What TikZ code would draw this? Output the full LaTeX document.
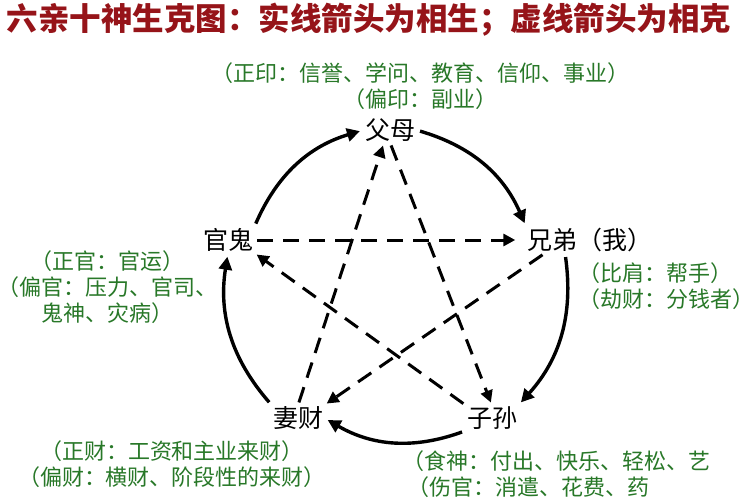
\documentclass[tikz,border=0pt]{standalone}
\usepackage{fontspec}
\newfontfamily\cjk{Noto Sans CJK SC}
\usetikzlibrary{positioning,arrows.meta}
\definecolor{titlered}{RGB}{150,20,25}
\definecolor{notegreen}{RGB}{40,120,40}
\begin{document}
\begin{tikzpicture}[x=1pt,y=-1pt,
% 设定样式
relnode/.style={font=\cjk\fontsize{25}{25}\selectfont, inner sep=1pt},
notenode/.style={font=\cjk\fontsize{22}{26}\selectfont, text=notegreen, align=center, inner sep=0pt},
shengarrow/.style={line width=3.4pt, -{Triangle[length=13pt,width=13pt]}, shorten >=4pt, shorten <=4pt},
kearrow/.style={line width=3pt, dash pattern=on 16pt off 10pt, -{Triangle[length=12pt,width=12pt]}, shorten >=3pt, shorten <=3pt},
]
\useasboundingbox (0,0) rectangle (750,500);
\clip (0,0) rectangle (750,500);
\fill[white] (0,0) rectangle (750,500);
% 标题
\node[font=\cjk\bfseries\fontsize{31.5}{31.5}\selectfont, text=titlered, anchor=west] (title) at (3,20) {六亲十神生克图：实线箭头为相生；虚线箭头为相克};
% 六亲
\node[relnode] (fumu)    at (390,130) {父母};
\node[relnode] (xiongdi) at (590,240) {兄弟（我）};
\node[relnode] (zisun)   at (492,418) {子孙};
\node[relnode] (qicai)   at (298,418) {妻财};
\node[relnode] (guangui) at (228,240) {官鬼};
% 注释
\node[notenode] (fumunote) at (420,86) {（正印：信誉、学问、教育、信仰、事业）\\（偏印：副业）};
\node[notenode, anchor=north west, align=left] (xiongdinote) at (578,262) {（比肩：帮手）\\（劫财：分钱者）};
\node[notenode] (guanguinote) at (108,287) {（正官：官运）\\（偏官：压力、官司、\\鬼神、灾病）};
\node[notenode] (qicainote) at (172,464) {（正财：工资和主业来财）\\（偏财：横财、阶段性的来财）};
\node[notenode, anchor=north west, align=left] (zisunnote) at (402,450) {（食神：付出、快乐、轻松、艺\\\ （伤官：消遣、花费、药};
% 相生
\draw[shengarrow] (fumu.east) to[bend left=25] (xiongdi.north west);
\draw[shengarrow] ([xshift=-25pt]xiongdi.south) to[bend left=25] (zisun.north east);
\draw[shengarrow] (zisun.south west) to[bend left=25] (qicai.east);
\draw[shengarrow] (qicai.north west) to[bend left=25] (guangui.south);
\draw[shengarrow] (guangui.north east) to[bend left=25] (fumu.west);
% 相克
\draw[kearrow] (guangui.east) -- ([xshift=-8pt]xiongdi.west);
\draw[kearrow] (fumu.south) -- (zisun.north);
\draw[kearrow] (zisun.north west) -- (guangui.south east);
\draw[kearrow] ([xshift=-45pt]xiongdi.south) -- (qicai.north east);
\draw[kearrow] (qicai.north) -- ([xshift=-6pt]fumu.south);
\end{tikzpicture}
\end{document}
